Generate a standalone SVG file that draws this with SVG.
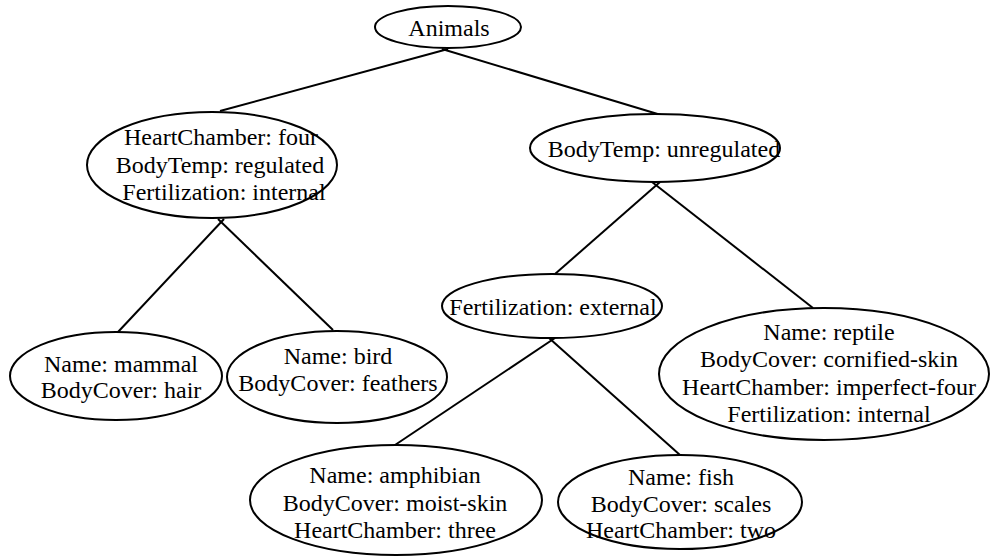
<svg xmlns="http://www.w3.org/2000/svg" width="990" height="560" viewBox="0 0 990 560">
<style>
.n ellipse{fill:#fff;stroke:#000;stroke-width:2}
.n text{font-family:"Liberation Serif","Times New Roman",serif;font-size:24px;fill:#000;text-anchor:middle}
#edges line{stroke:#000;stroke-width:2}
</style>
<rect width="990" height="560" fill="#fff"/>
<g id="edges">
<line x1="448" y1="49" x2="220" y2="111"/>
<line x1="442" y1="49" x2="661" y2="115"/>
<line x1="224" y1="219" x2="118" y2="332"/>
<line x1="218" y1="219" x2="333" y2="330"/>
<line x1="660" y1="182" x2="555" y2="274"/>
<line x1="652" y1="182" x2="813" y2="308"/>
<line x1="555" y1="338" x2="395" y2="445"/>
<line x1="549" y1="338" x2="680" y2="455"/>
</g>
<g id="animals" class="n">
<ellipse cx="448" cy="27" rx="73" ry="21"/>
<text x="449" y="36">Animals</text>
</g>
<g id="regulated" class="n">
<ellipse cx="212" cy="165" rx="125" ry="53"/>
<text x="221" y="145">HeartChamber: four</text>
<text x="220" y="173">BodyTemp: regulated</text>
<text x="224" y="200">Fertilization: internal</text>
</g>
<g id="unregulated" class="n">
<ellipse cx="655" cy="148" rx="125" ry="34"/>
<text x="664" y="157">BodyTemp: unregulated</text>
</g>
<g id="mammal" class="n">
<ellipse cx="116" cy="376" rx="106" ry="44"/>
<text x="121" y="372">Name: mammal</text>
<text x="121" y="398">BodyCover: hair</text>
</g>
<g id="bird" class="n">
<ellipse cx="337" cy="377" rx="110" ry="46"/>
<text x="338" y="364">Name: bird</text>
<text x="338" y="391">BodyCover: feathers</text>
</g>
<g id="external" class="n">
<ellipse cx="552" cy="306" rx="110" ry="32"/>
<text x="553" y="315">Fertilization: external</text>
</g>
<g id="reptile" class="n">
<ellipse cx="824" cy="374" rx="165" ry="66"/>
<text x="829" y="340">Name: reptile</text>
<text x="829" y="367">BodyCover: cornified-skin</text>
<text x="829" y="395">HeartChamber: imperfect-four</text>
<text x="829" y="422">Fertilization: internal</text>
</g>
<g id="amphibian" class="n">
<ellipse cx="396" cy="500" rx="146" ry="55"/>
<text x="395" y="483">Name: amphibian</text>
<text x="395" y="511">BodyCover: moist-skin</text>
<text x="395" y="538">HeartChamber: three</text>
</g>
<g id="fish" class="n">
<ellipse cx="680" cy="502" rx="122" ry="47"/>
<text x="681" y="485">Name: fish</text>
<text x="681" y="512">BodyCover: scales</text>
<text x="681" y="538">HeartChamber: two</text>
</g>
</svg>
